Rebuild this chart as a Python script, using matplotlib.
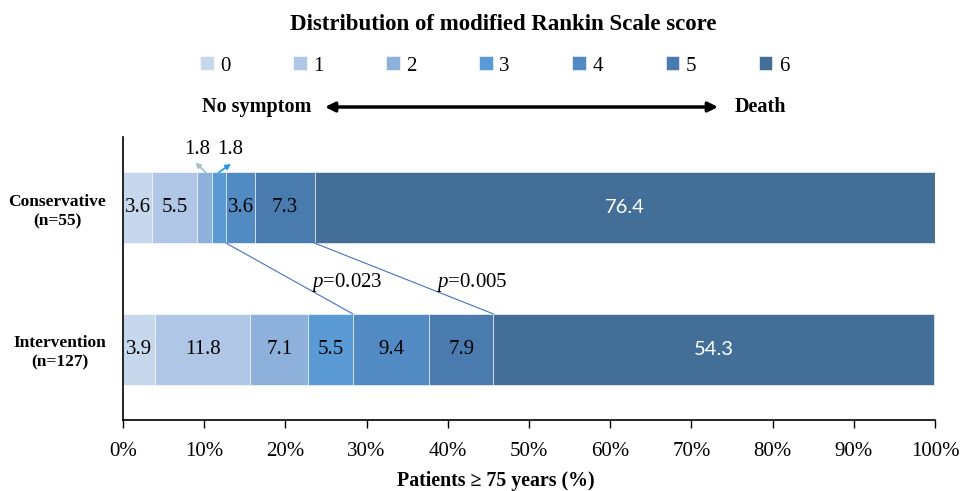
import matplotlib.pyplot as plt
import numpy as np

plt.rcParams['font.family'] = 'Liberation Serif'
plt.rcParams['mathtext.fontset'] = 'custom'
plt.rcParams['mathtext.rm'] = 'Liberation Serif'
plt.rcParams['mathtext.it'] = 'Liberation Serif:italic'

groups = ["Intervention\n(n=127)", "Conservative\n(n=55)"]
scores = ["0", "1", "2", "3", "4", "5", "6"]
conservative = [3.6, 5.5, 1.8, 1.8, 3.6, 7.3, 76.4]
intervention = [3.9, 11.8, 7.1, 5.5, 9.4, 7.9, 54.3]
colors = ['#C7D7EC', '#AFC6E6', '#8EB1DC', '#5B9BD5', '#528BC3', '#4A7BAE', '#426E98']
p_values = ["0.023", "0.005"]
p_xpos = [27.6, 42.9]

W, H = 963, 491
fig = plt.figure(figsize=(W / 100, H / 100), dpi=100)
ax = fig.add_axes([123 / W, 1 - 420 / H, 812 / W, 283 / H])

data = np.array([intervention, conservative])  # y=0 intervention, y=1 conservative
ypos = np.arange(len(groups))
left = np.zeros(len(groups))
bars = []
for j, s in enumerate(scores):
    b = ax.barh(ypos, data[:, j], left=left, height=0.5, color=colors[j],
                edgecolor='white', linewidth=0.4, label=s)
    bars.append(b)
    for i in range(len(groups)):
        v = data[i, j]
        if v < 2:
            continue
        xc = left[i] + v / 2
        if j == 6:
            ax.text(xc, ypos[i], "%.1f" % v, ha='center', va='center',
                    color='white', fontsize=14.5, family='Lato')
        else:
            ax.text(xc, ypos[i], "%.1f" % v, ha='center', va='center',
                    color='black', fontsize=15)
    left += data[:, j]

# small 1.8 labels above conservative bar with arrows
cum_c = np.cumsum(conservative)
cum_i = np.cumsum(intervention)
ax.text(9.1, 1.41, "%.1f" % conservative[2], ha='center', va='center', fontsize=15)
ax.text(13.2, 1.41, "%.1f" % conservative[3], ha='center', va='center', fontsize=15)
ax.annotate("", xy=(8.9, 1.32), xytext=(cum_c[1] + 1.1, 1.25),
            arrowprops=dict(arrowstyle='-|>', color='#A5C0CC', lw=1.2,
                            mutation_scale=8, shrinkA=0, shrinkB=0), annotation_clip=False)
ax.annotate("", xy=(13.3, 1.31), xytext=(cum_c[2] + 0.9, 1.25),
            arrowprops=dict(arrowstyle='-|>', color='#1F9BDE', lw=1.2,
                            mutation_scale=8, shrinkA=0, shrinkB=0), annotation_clip=False)

# connecting lines with p values
for (a, b), p, px in zip([(cum_c[3], cum_i[3]), (cum_c[5], cum_i[5])], p_values, p_xpos):
    ax.plot([a, b], [0.75, 0.25], color='#4472C4', lw=0.8)
    ax.text(px, 0.475, r'$p$=' + p, ha='center', va='center', fontsize=15)

ax.set_xlim(0, 100)
ax.set_ylim(-0.5, 1.5)
ax.set_xticks(np.arange(0, 101, 10))
ax.set_xticklabels(["%d%%" % t for t in range(0, 101, 10)], fontsize=15)
ax.set_yticks(ypos)
ax.set_yticklabels(groups, fontsize=12.5, fontweight='bold', linespacing=1.3,
                   multialignment='center')
ax.tick_params(axis='y', length=0, pad=12)
ax.tick_params(axis='x', direction='out', length=6, width=1, pad=10)
for side in ['top', 'right']:
    ax.spines[side].set_visible(False)
ax.spines['left'].set_linewidth(1.2)
ax.spines['bottom'].set_linewidth(1.2)

fig.text(503 / W, 1 - 24 / H, "Distribution of modified Rankin Scale score",
         ha='center', va='center', fontsize=16.5, fontweight='bold')

leg = fig.legend(handles=bars, labels=scores, ncol=7, loc='center left',
                 bbox_to_anchor=(200 / W, 1 - 66 / H), frameon=False, fontsize=15,
                 handlelength=0.65, handleheight=0.65, handletextpad=0.3,
                 columnspacing=3.02, borderpad=0, borderaxespad=0)

fig.text(202 / W, 1 - 107 / H, "No symptom", ha='left', va='center',
         fontsize=14.5, fontweight='bold')
fig.text(786 / W, 1 - 107 / H, "Death", ha='right', va='center',
         fontsize=14.5, fontweight='bold')
ax.annotate("", xy=(325 / W, 1 - 107 / H), xytext=(718 / W, 1 - 107 / H),
            xycoords='figure fraction', textcoords='figure fraction',
            arrowprops=dict(arrowstyle='<|-|>', color='black', lw=2.5,
                            mutation_scale=14, shrinkA=0, shrinkB=0))

fig.text(496 / W, 1 - 481 / H, "Patients \u2265 75 years (%)", ha='center',
         va='center', fontsize=14.3, fontweight='bold')

fig.savefig("out.png", dpi=100)
